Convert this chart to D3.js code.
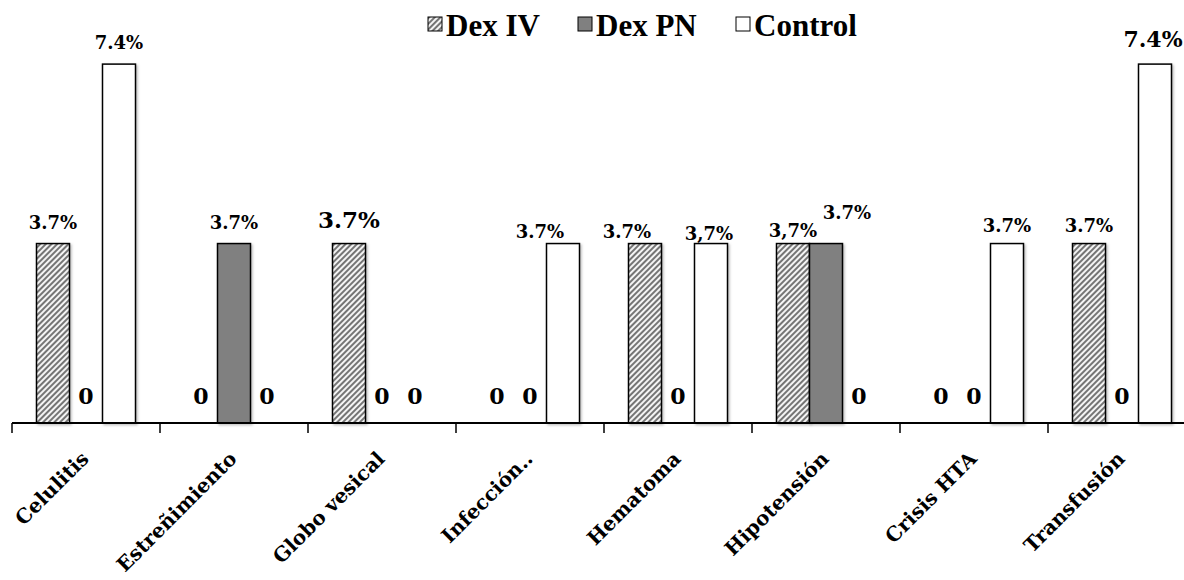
<!DOCTYPE html>
<html>
<head>
<meta charset="utf-8">
<script src="https://cdn.jsdelivr.net/npm/d3@7"></script>
<style>
  body { margin: 0; background: #fff; }
  svg { display: block; }
</style>
</head>
<body>
<div id="chart"></div>
<script>
// categorias y series
const categories = ["Celulitis", "Estreñimiento", "Globo vesical", "Infección..", "Hematoma", "Hipotensión", "Crisis HTA", "Transfusión"];
const series = ["Dex IV", "Dex PN", "Control"];

const dexIV   = [3.7, 0, 3.7, 0, 3.7, 3.7, 0, 3.7];
const dexPN   = [0, 3.7, 0, 0, 0, 3.7, 0, 0];
const control = [7.4, 0, 0, 3.7, 3.7, 0, 3.7, 7.4];

// textos de las etiquetas (tal cual aparecen)
const dexIVLabels   = ["3.7%", "0", "3.7%", "0", "3.7%", "3,7%", "0", "3.7%"];
const dexPNLabels   = ["0", "3.7%", "0", "0", "0", "3.7%", "0", "0"];
const controlLabels = ["7.4%", "0", "0", "3.7%", "3,7%", "0", "3.7%", "7.4%"];

const values = [dexIV, dexPN, control];
const labels = [dexIVLabels, dexPNLabels, controlLabels];

// ajustes manuales de algunas etiquetas (dx, gap sobre la barra, tamaño)
const labelTweaks = {
    "Celulitis|Dex IV": { gap: 15 },
    "Celulitis|Control": { gap: 15 },
    "Estreñimiento|Dex PN": { gap: 15 },
    "Globo vesical|Dex IV": { gap: 16, size: 23 },
    "Infección..|Control": { dx: -23, gap: 6 },
    "Hematoma|Dex IV": { dx: -18, gap: 6 },
    "Hematoma|Control": { dx: -2, gap: 4 },
    "Hipotensión|Dex IV": { gap: 7 },
    "Hipotensión|Dex PN": { dx: 21, gap: 25 },
    "Crisis HTA|Control": { gap: 12 },
    "Transfusión|Dex IV": { gap: 12 },
    "Transfusión|Control": { dx: -2, gap: 17, size: 22 }
};

const width = 1184, height = 580;
const baseY = 423;

const svg = d3.select("#chart").append("svg")
    .attr("width", width)
    .attr("height", height);

const defs = svg.append("defs");

// rayado diagonal para Dex IV
const hatch = defs.append("pattern")
    .attr("id", "hatch")
    .attr("patternUnits", "userSpaceOnUse")
    .attr("width", 4)
    .attr("height", 4)
    .attr("patternTransform", "rotate(45)");
hatch.append("rect").attr("width", 4).attr("height", 4).attr("fill", "#f4f4f4");
hatch.append("line")
    .attr("x1", 1).attr("y1", 0).attr("x2", 1).attr("y2", 4)
    .attr("stroke", "#4a4a4a").attr("stroke-width", 1.5);

const shadow = defs.append("filter").attr("id", "shadow")
    .attr("x", "-20%").attr("y", "-5%").attr("width", "150%").attr("height", "115%");
shadow.append("feDropShadow")
    .attr("dx", 1.5).attr("dy", 1.5).attr("stdDeviation", 1)
    .attr("flood-color", "#000").attr("flood-opacity", 0.25);

const fills = { "Dex IV": "url(#hatch)", "Dex PN": "#808080", "Control": "#ffffff" };

const x = d3.scaleBand()
    .domain(categories)
    .range([12, 12 + 148 * categories.length]);

const xSub = d3.scaleBand()
    .domain(series)
    .range([24.5, 123.5]);

const y = d3.scaleLinear()
    .domain([0, 8])
    .range([baseY, 35]);

// datos en forma plana
const rows = [];
categories.forEach((c, i) => {
    series.forEach((s, j) => {
        rows.push({ cat: c, ser: s, value: values[j][i], label: labels[j][i] });
    });
});

const groups = svg.append("g");

groups.selectAll("rect.bar")
    .data(rows.filter(d => d.value > 0))
    .join("rect")
    .attr("class", "bar")
    .attr("x", d => x(d.cat) + xSub(d.ser))
    .attr("y", d => y(d.value))
    .attr("width", xSub.bandwidth())
    .attr("height", d => baseY - y(d.value))
    .attr("fill", d => fills[d.ser])
    .attr("stroke", "#000")
    .attr("stroke-width", 1.5)
    .attr("filter", "url(#shadow)");

// etiquetas de datos
groups.selectAll("text.lbl")
    .data(rows)
    .join("text")
    .attr("class", "lbl")
    .attr("text-anchor", "middle")
    .attr("font-family", "'DejaVu Serif', serif")
    .attr("font-weight", "bold")
    .attr("x", d => {
        const t = labelTweaks[d.cat + "|" + d.ser] || {};
        return x(d.cat) + xSub(d.ser) + xSub.bandwidth() / 2 + (t.dx || 0);
    })
    .attr("y", d => {
        if (d.value === 0) return 404;
        const t = labelTweaks[d.cat + "|" + d.ser] || {};
        return y(d.value) - (t.gap != null ? t.gap : 6);
    })
    .attr("font-size", d => {
        if (d.value === 0) return 22;
        const t = labelTweaks[d.cat + "|" + d.ser] || {};
        return t.size || 18;
    })
    .attr("fill", "#000")
    .text(d => d.label);

// eje x
const axis = svg.append("g");
axis.append("line")
    .attr("x1", 12).attr("x2", width)
    .attr("y1", baseY).attr("y2", baseY)
    .attr("stroke", "#000").attr("stroke-width", 2);

const tickPos = categories.map(c => x(c));
axis.selectAll("line.tick")
    .data(tickPos)
    .join("line")
    .attr("class", "tick")
    .attr("x1", d => d).attr("x2", d => d)
    .attr("y1", baseY).attr("y2", baseY + 10)
    .attr("stroke", "#000").attr("stroke-width", 1.5);

axis.selectAll("text.cat")
    .data(categories)
    .join("text")
    .attr("class", "cat")
    .attr("transform", d => `translate(${x(d) + x.bandwidth() / 2 + 4},${460}) rotate(-45)`)
    .attr("text-anchor", "end")
    .attr("font-family", "'DejaVu Serif', serif")
    .attr("font-weight", "bold")
    .attr("font-size", 20)
    .attr("fill", "#000")
    .text(d => d);

// leyenda
const legend = svg.append("g");
const legendX = [428, 578, 736];
series.forEach((s, i) => {
    const g = legend.append("g").attr("transform", `translate(${legendX[i]},0)`);
    g.append("rect")
        .attr("x", 0).attr("y", 17)
        .attr("width", 14).attr("height", 14)
        .attr("fill", fills[s])
        .attr("stroke", "#000")
        .attr("stroke-width", 1);
    g.append("text")
        .attr("x", 18).attr("y", 36)
        .attr("font-family", "'Liberation Serif', 'Times New Roman', serif")
        .attr("font-weight", "bold")
        .attr("font-size", 31)
        .attr("fill", "#000")
        .text(s);
});
</script>
</body>
</html>
